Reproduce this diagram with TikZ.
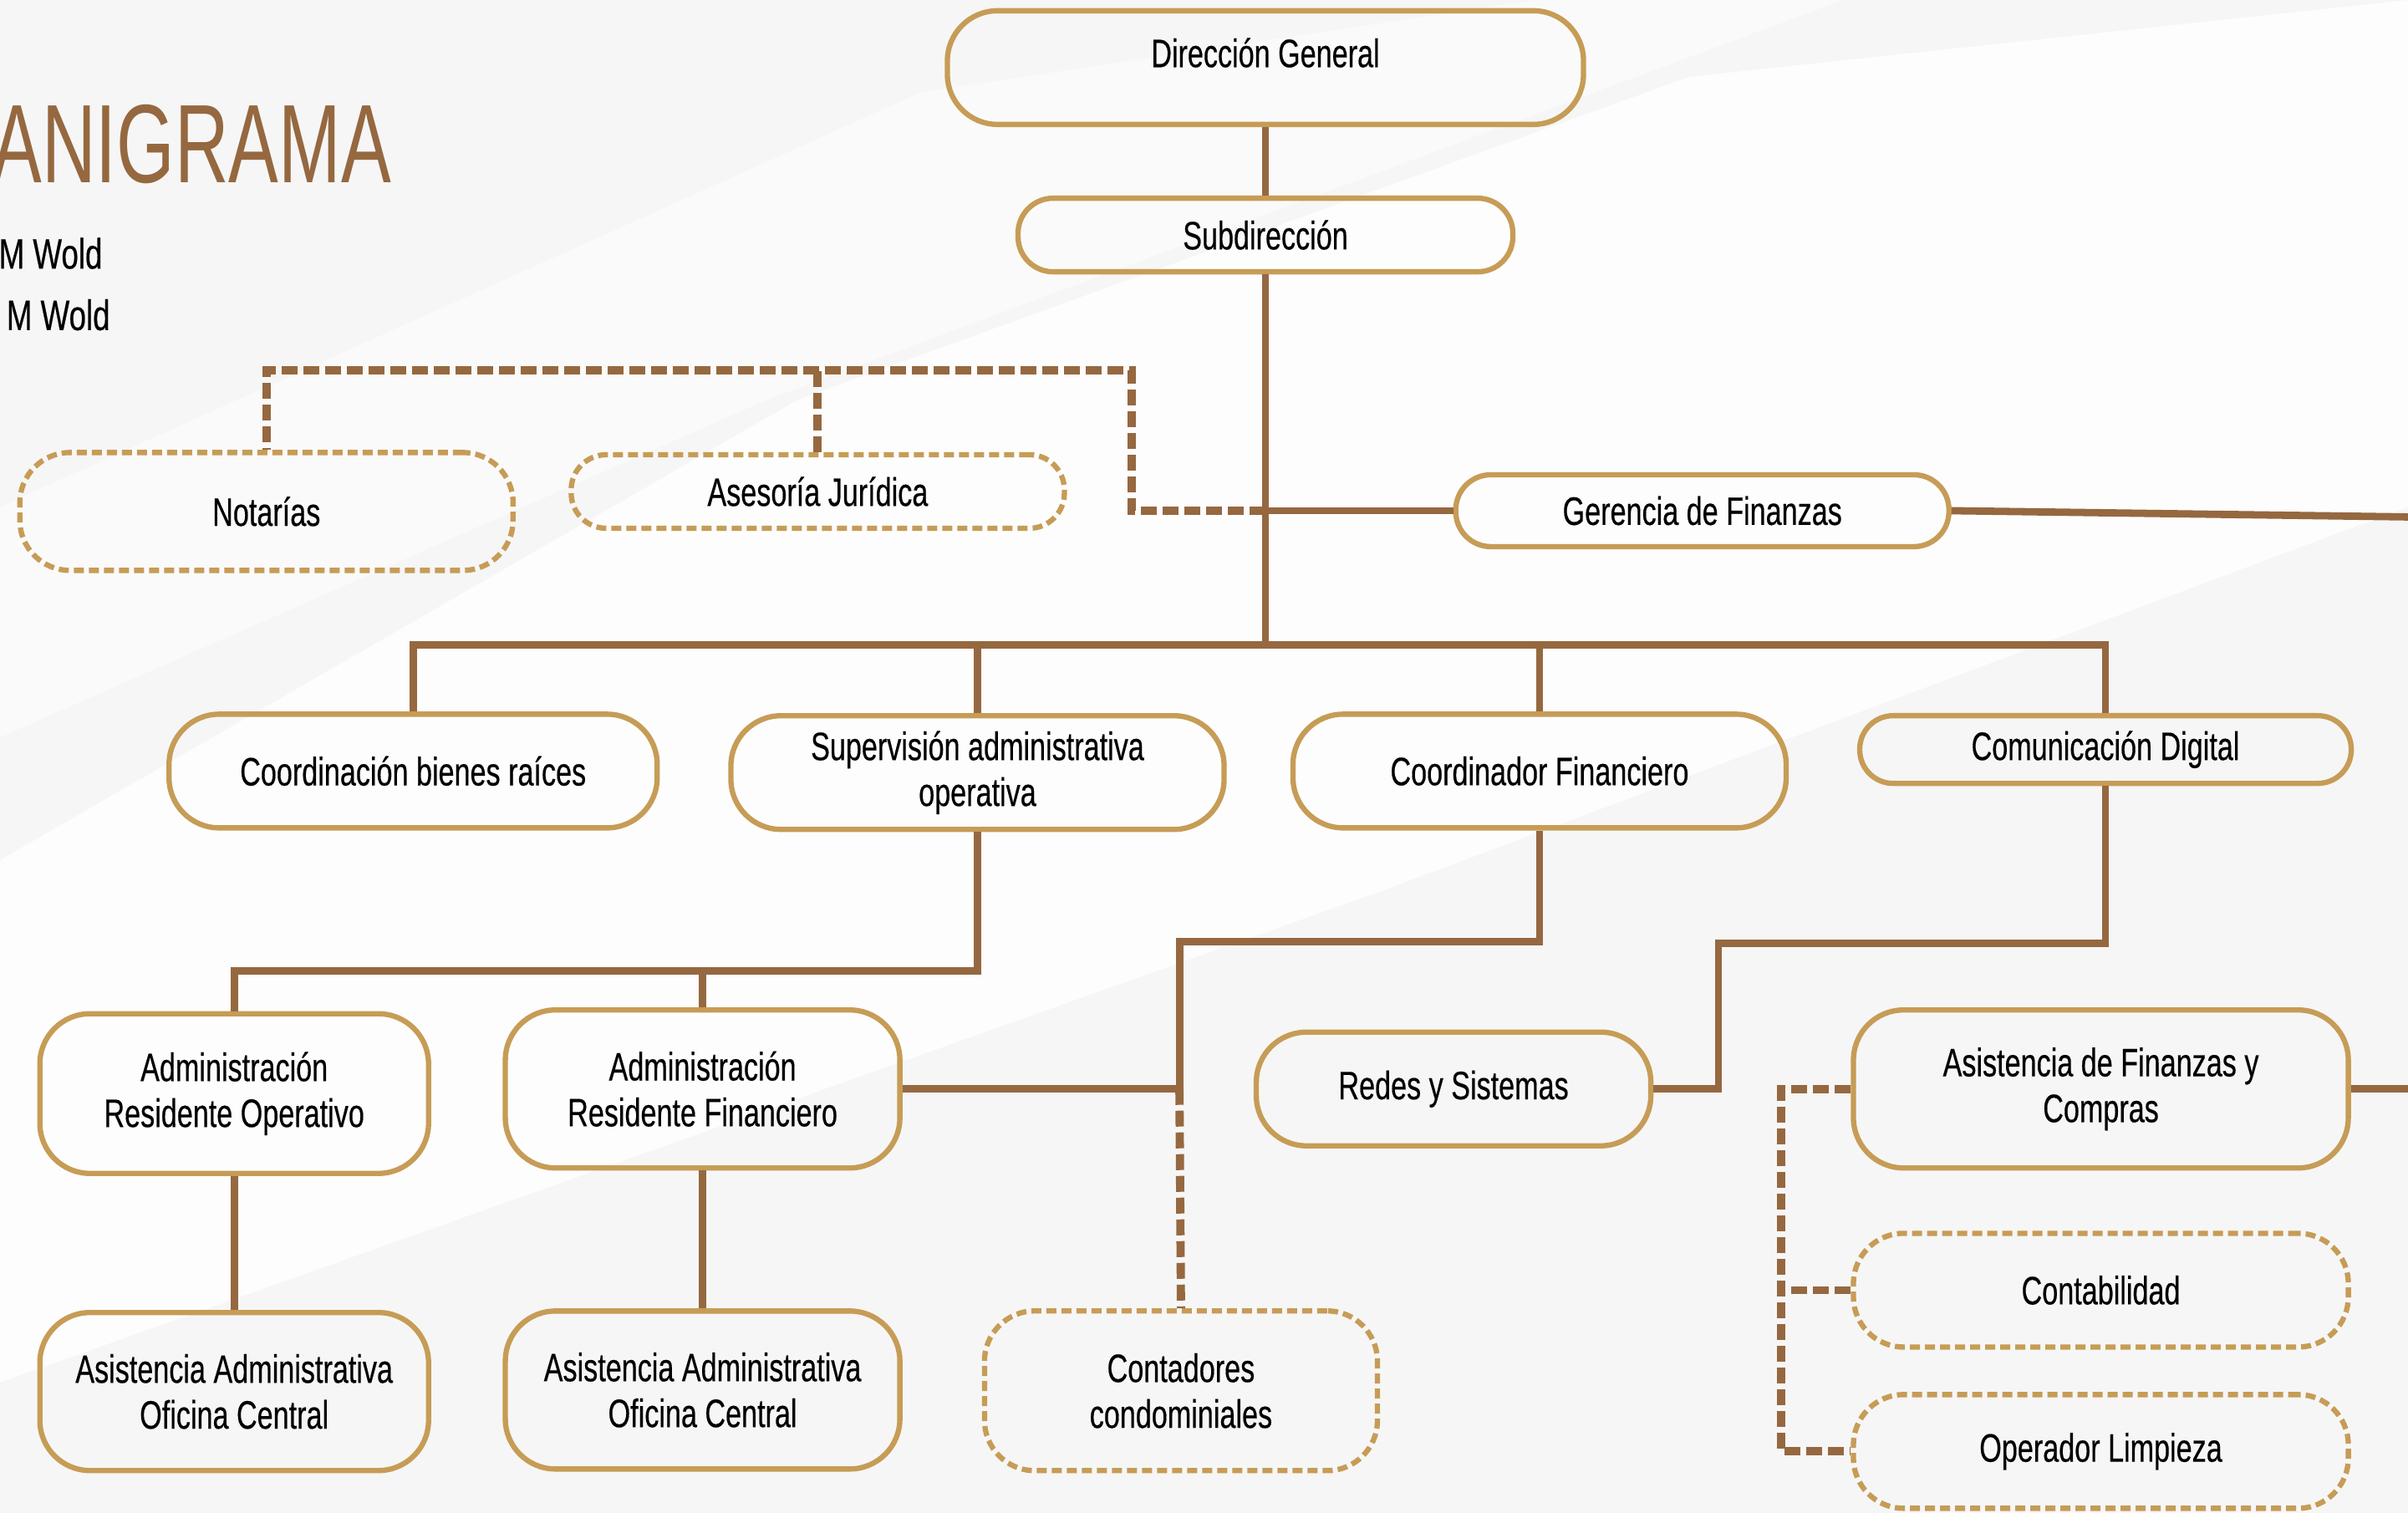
\documentclass[tikz,border=0pt]{standalone}
\usepackage{fontspec}
\setmainfont{Liberation Sans}[FakeStretch=0.72, FakeBold=0.35]
\newfontfamily\titlefont{Liberation Sans}[FakeStretch=0.67]
\usepackage{xcolor}
\usepackage{tikz}
\usetikzlibrary{positioning,calc}
\definecolor{boxgold}{RGB}{198,156,86}
\definecolor{linebrown}{RGB}{149,104,64}
\definecolor{bggray}{RGB}{246,246,246}

\begin{document}
\begin{tikzpicture}[x=0.018374cm, y=-0.018374cm,
    box/.style={draw=boxgold, line width=1.8pt, rounded corners=0.6cm, align=center,
        font=\fontsize{13.5}{15.6}\selectfont, text=black, inner sep=2pt},
    pill/.style={box, rounded corners=0.42cm},
    dbox/.style={box, dash pattern=on 0.12cm off 0.06cm},
    link/.style={draw=linebrown, line width=2.5pt},
    dlink/.style={draw=linebrown, line width=2.8pt, dash pattern=on 0.19cm off 0.07cm}]
    \useasboundingbox (0,0) rectangle (1568,985);
    \fill[bggray] (0,0) rectangle (1568,985);
    \fill[white, opacity=0.8] (0,560) -- (520,260) -- (1100,50) -- (1568,0) -- (1568,330) -- (900,580) -- (0,900) -- cycle;
    \fill[white, opacity=0.5] (0,330) -- (600,60) -- (1000,0) -- (1200,0) -- (500,260) -- (0,480) -- cycle;

    \node[anchor=west, text=linebrown, font=\titlefont\fontsize{38}{40}\selectfont] (title) at (-12,94) {ANIGRAMA};
    \node[anchor=east, font=\fontsize{14.5}{16}\selectfont, inner sep=0pt] (sub1) at (67,165) {M Wold};
    \node[anchor=east, font=\fontsize{14.5}{16}\selectfont, inner sep=0pt] (sub2) at (72,205) {M Wold};

    \node[box, minimum width=7.61cm, minimum height=1.36cm, text depth=0.36cm] (dir) at (824,44) {Dirección General};
    \node[pill, minimum width=5.92cm, minimum height=0.88cm] (sub) at (824,153) {Subdirección};
    \node[dbox, minimum width=5.90cm, minimum height=1.41cm] (not) at (173.5,333) {Notarías};
    \node[dbox, rounded corners=0.42cm, minimum width=5.90cm, minimum height=0.88cm] (ase) at (532.5,320) {Asesoría Jurídica};
    \node[pill, minimum width=5.90cm, minimum height=0.86cm] (ger) at (1108.5,332.5) {Gerencia de Finanzas};

    \node[box, minimum width=5.84cm, minimum height=1.36cm] (cbr) at (269,502) {Coordinación bienes raíces};
    \node[box, minimum width=5.90cm, minimum height=1.36cm] (sup) at (636.5,503) {Supervisión administrativa\\operativa};
    \node[box, minimum width=5.90cm, minimum height=1.36cm] (cfin) at (1002.5,502) {Coordinador Financiero};
    \node[pill, rounded corners=0.4cm, minimum width=5.88cm, minimum height=0.81cm] (cdig) at (1371,488) {Comunicación Digital};

    \node[box, minimum width=4.65cm, minimum height=1.91cm] (aro) at (152.5,712) {Administración\\Residente Operativo};
    \node[box, minimum width=4.72cm, minimum height=1.89cm] (arf) at (457.5,709) {Administración\\Residente Financiero};
    \node[box, minimum width=4.72cm, minimum height=1.36cm] (red) at (946.5,709) {Redes y Sistemas};
    \node[box, minimum width=5.92cm, minimum height=1.89cm] (afc) at (1368,709) {Asistencia de Finanzas y\\Compras};

    \node[box, minimum width=4.65cm, minimum height=1.89cm] (aao) at (152.5,906) {Asistencia Administrativa\\Oficina Central};
    \node[box, minimum width=4.72cm, minimum height=1.89cm] (aaf) at (457.5,905) {Asistencia Administrativa\\Oficina Central};
    \node[dbox, minimum width=4.70cm, minimum height=1.91cm] (cont) at (769,905.5) {Contadores\\condominiales};
    \node[dbox, minimum width=5.92cm, minimum height=1.36cm] (ctb) at (1368,840) {Contabilidad};
    \node[dbox, minimum width=5.92cm, minimum height=1.36cm] (opl) at (1368,945) {Operador Limpieza};

    \coordinate (hub) at (824,420);
    \coordinate (jbend) at (737,241);
    \coordinate (gerout) at (1600,337);
    \coordinate (supbus) at (636,632);
    \coordinate (cfbus) at (768,613);
    \coordinate (cdbus) at (1119,614);
    \coordinate (afbus) at (1160,712);
    \coordinate (afout) at (1600,712);

    \draw[link] (dir) -- (sub);
    \draw[link] (sub) -- (hub);
    \draw[link] (cbr.north) -- (cbr.north |- hub) -- (cdig.north |- hub) -- (cdig.north);
    \draw[link] (sup.north) -- (sup.north |- hub);
    \draw[link] (cfin.north) -- (cfin.north |- hub);
    \draw[link] (ger.west) -- (ger.west -| hub);
    \draw[link] (ger.east) -- (gerout);
    \draw[dlink] (ger.west -| hub) -- (ger.west -| jbend) -- (jbend) -- (not.north |- jbend) -- (not.north);
    \draw[dlink] (ase.north) -- (ase.north |- jbend);

    \draw[link] (sup.south) -- (sup.south |- supbus) -- (aro.north |- supbus) -- (aro.north);
    \draw[link] (arf.north) -- (arf.north |- supbus);
    \draw[link] (aro) -- (aao);
    \draw[link] (arf) -- (aaf);

    \draw[link] (cfin.south) -- (cfin.south |- cfbus) -- (cfbus) -- (arf.east -| cfbus) -- (arf.east);
    \draw[dlink] (arf.east -| cfbus) -- (cont.north);
    \draw[link] (cdig.south) -- (cdig.south |- cdbus) -- (cdbus) -- (cdbus |- red.east) -- (red.east);

    \draw[link] (afc.east) -- (afc.east -| afout);
    \draw[dlink] (afc.west) -- (afc.west -| afbus) -- (afbus |- opl.west) -- (opl.west);
    \draw[dlink] (ctb.west) -- (ctb.west -| afbus);
\end{tikzpicture}
\end{document}
